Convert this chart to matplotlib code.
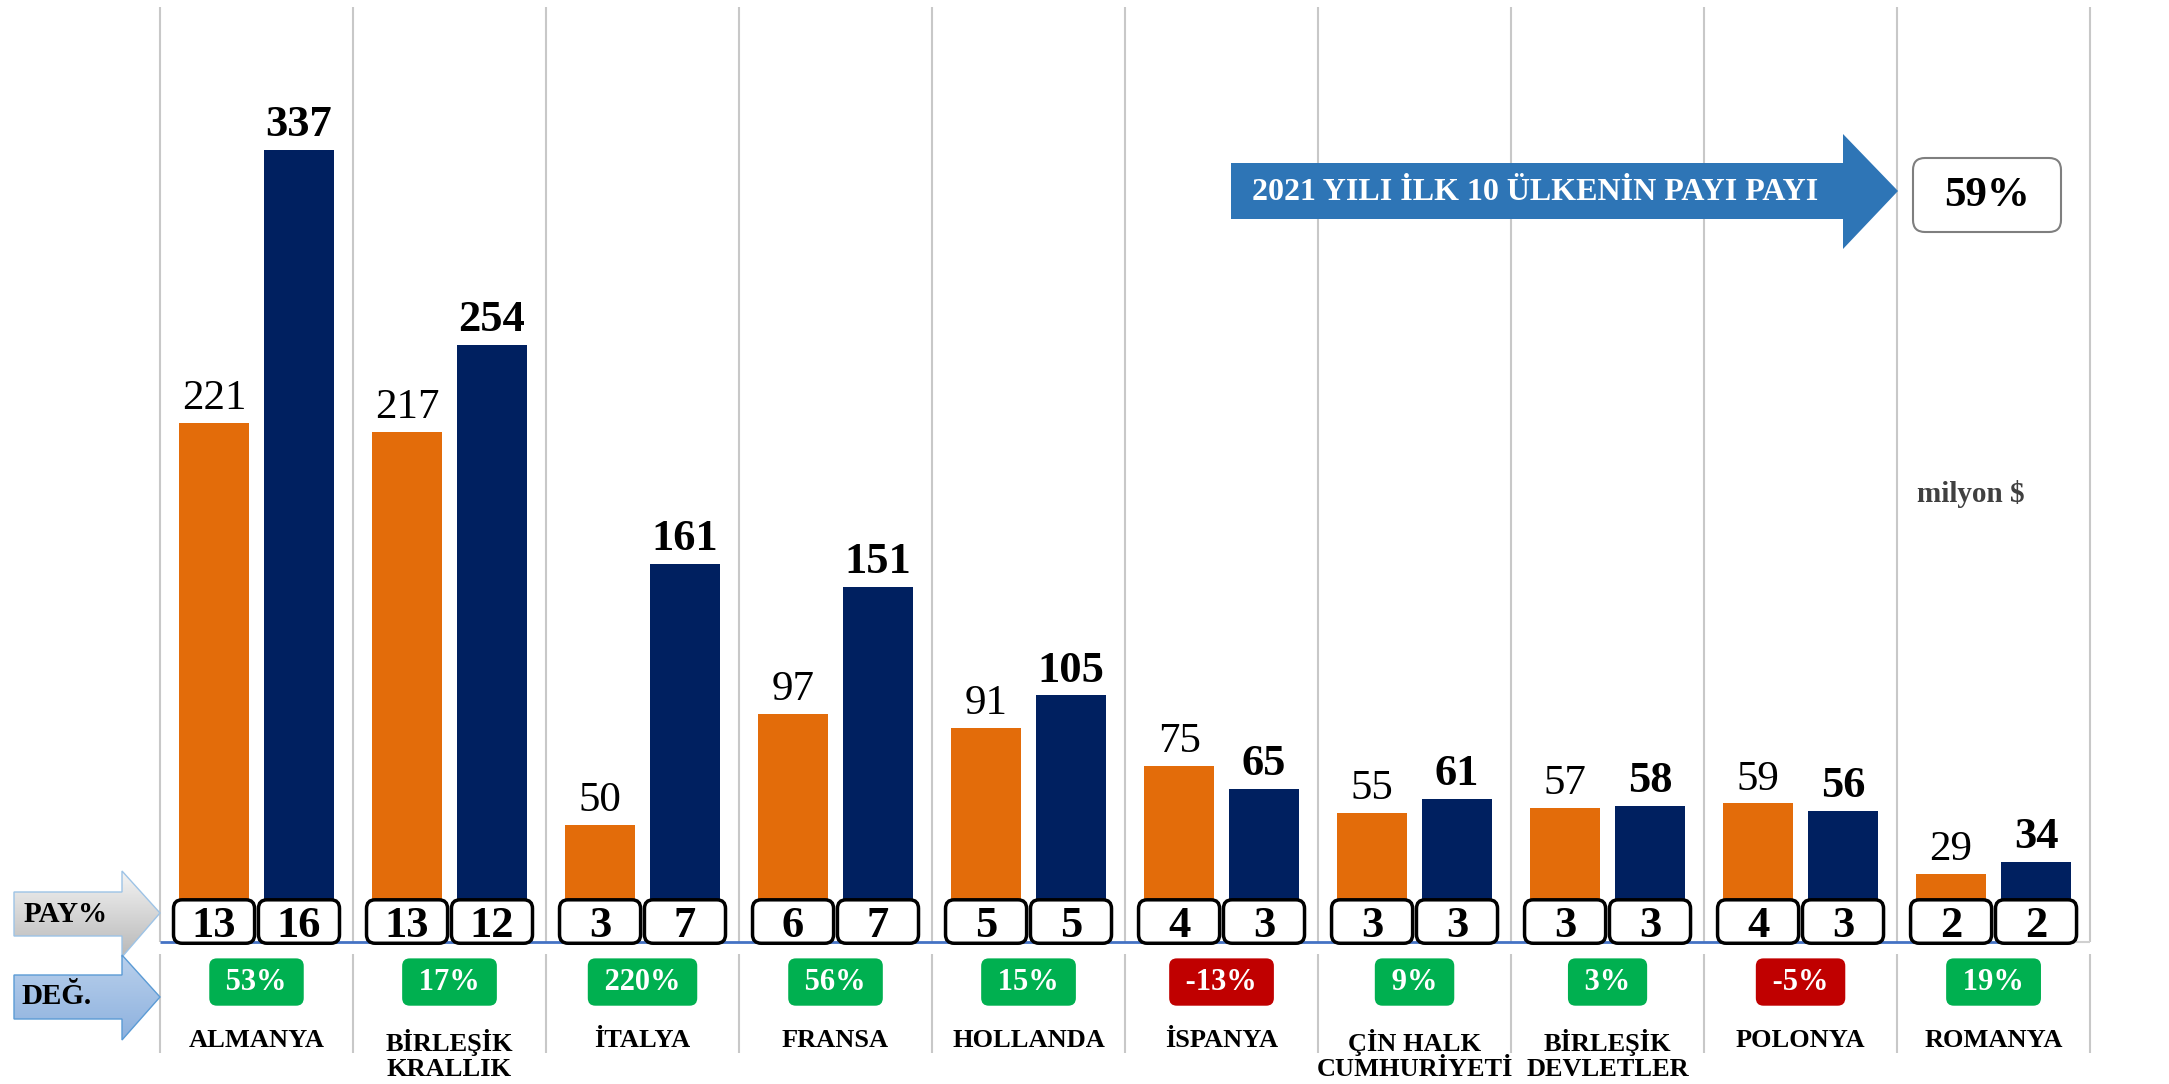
import numpy as np
import matplotlib
matplotlib.use('Agg')
import matplotlib.pyplot as plt
from matplotlib.patches import FancyBboxPatch, Polygon
from matplotlib.colors import LinearSegmentedColormap

plt.rcParams['font.family'] = ['Liberation Serif', 'DejaVu Serif']

countries = ['ALMANYA', 'BİRLEŞİK\nKRALLIK', 'İTALYA', 'FRANSA', 'HOLLANDA',
             'İSPANYA', 'ÇİN HALK\nCUMHURİYETİ', 'BİRLEŞİK\nDEVLETLER', 'POLONYA', 'ROMANYA']
val_2020 = [221, 217, 50, 97, 91, 75, 55, 57, 59, 29]
val_2021 = [337, 254, 161, 151, 105, 65, 61, 58, 56, 34]
pay_2020 = [13, 13, 3, 6, 5, 4, 3, 3, 4, 2]
pay_2021 = [16, 12, 7, 7, 5, 3, 3, 3, 3, 2]
change = [53, 17, 220, 56, 15, -13, 9, 3, -5, 19]
top10_share = '59%'
banner = '2021 YILI İLK 10 ÜLKENİN PAYI PAYI'
unit = 'milyon $'

W, H = 2169, 1084
orange = '#e36c0a'
navy = '#002060'
green = '#00b050'
red = '#c00000'

fig = plt.figure(figsize=(W / 100, H / 100), dpi=100)
ax = fig.add_axes([0, 0, 1, 1])
xlim = (-1.329, 9.909)
ylim = (-60.4, 401)
ax.set_xlim(*xlim)
ax.set_ylim(*ylim)
ax.axis('off')

x = np.arange(len(countries))
bw = 0.36
off = 0.22

# gridlines at category boundaries
bounds = np.arange(-0.5, len(countries), 1.0)
ax.vlines(bounds, 0, 398, color='#c8c8c8', lw=1.5, zorder=0)
ax.vlines(bounds, -5, -47, color='#c8c8c8', lw=1.5, zorder=0)

ax.bar(x - off, val_2020, bw, color=orange, zorder=2)
ax.bar(x + off, val_2021, bw, color=navy, zorder=2)

ax.hlines(0, -0.5, 9.3, color='#4472c4', lw=2, zorder=2.5)
ax.hlines(0, 9.3, 9.5, color='#d0d0d0', lw=1.5, zorder=2.5)

for xi, v in zip(x - off, val_2020):
    ax.annotate(str(v), (xi, v), xytext=(0, 10), textcoords='offset points',
                ha='center', va='baseline', fontsize=31, color='black')
for xi, v in zip(x + off, val_2021):
    ax.annotate(str(v), (xi, v), xytext=(0, 10), textcoords='offset points',
                ha='center', va='baseline', fontsize=32, fontweight='bold', color='black')

# share boxes
px_x = W / (xlim[1] - xlim[0])
px_y = H / (ylim[1] - ylim[0])
aspect = px_x / px_y
box_w = 0.42
y0, y1 = -0.5, 18.0
for i in range(len(countries)):
    for xc, p in ((x[i] - off, pay_2020[i]), (x[i] + off, pay_2021[i])):
        ax.add_patch(FancyBboxPatch((xc - box_w / 2, y0), box_w, y1 - y0,
                                    boxstyle='round,pad=0,rounding_size=0.045',
                                    mutation_aspect=aspect, fc='white', ec='black',
                                    lw=2.5, zorder=3))
        ax.text(xc, 2.2, str(p), ha='center', va='baseline', fontsize=32,
                fontweight='bold', zorder=4)

# change boxes
for xi, c in zip(x, change):
    ax.text(xi, -17, f' {c}% ', ha='center', va='center', fontsize=22,
            fontweight='bold', color='white', zorder=4,
            bbox=dict(boxstyle='round,pad=0.3,rounding_size=0.25',
                      fc=green if c >= 0 else red, ec='none'))

for xi, name in zip(x, countries):
    ax.text(xi, -37.0, name, ha='center', va='top', fontsize=19,
            fontweight='bold', linespacing=1.1)

# decorations in pixel space
ov = fig.add_axes([0, 0, 1, 1])
ov.patch.set_alpha(0)
ov.axis('off')


def grad_arrow(pts, c_top, c_bot, ec):
    poly = Polygon(pts, closed=True, fc='none', ec=ec, lw=1, zorder=3)
    ov.add_patch(poly)
    xs = [p[0] for p in pts]
    ys = [p[1] for p in pts]
    g = np.linspace(0, 1, 256).reshape(-1, 1)
    cmap = LinearSegmentedColormap.from_list('g', [c_top, c_bot])
    im = ov.imshow(g, cmap=cmap, extent=(min(xs), max(xs), max(ys), min(ys)),
                   aspect='auto', zorder=2)
    im.set_clip_path(poly)


grad_arrow([(14, 892), (122, 892), (122, 871), (160, 913), (122, 957), (122, 936), (14, 936)],
           '#f4f4f4', '#b8b8b8', '#9dc3e6')
grad_arrow([(14, 975), (122, 975), (122, 955), (160, 997), (122, 1040), (122, 1019), (14, 1019)],
           '#b9d0ec', '#8db1de', '#5b9bd5')
ov.text(66, 914, 'PAY%', ha='center', va='center', fontsize=21, fontweight='bold', zorder=4)
ov.text(56, 997, 'DEĞ.', ha='center', va='center', fontsize=21, fontweight='bold', zorder=4)

ov.add_patch(Polygon([(1231, 163), (1843, 163), (1843, 134), (1898, 191), (1843, 249),
                      (1843, 219), (1231, 219)], closed=True, fc='#2e75b6', ec='none', zorder=3))
ov.text(1535, 192, banner, ha='center', va='center', fontsize=23, fontweight='bold',
        color='white', zorder=4)

ov.add_patch(FancyBboxPatch((1913, 158), 148, 74, boxstyle='round,pad=0,rounding_size=12',
                            fc='white', ec='#7f7f7f', lw=1.5, zorder=3))
ov.text(1987, 196, top10_share, ha='center', va='center', fontsize=31, fontweight='bold', zorder=4)

ov.text(1971, 494, unit, ha='center', va='center', fontsize=21, fontweight='bold',
        color='#404040', zorder=4)

ov.set_xlim(0, W)
ov.set_ylim(H, 0)

fig.savefig('out.png', dpi=100)
